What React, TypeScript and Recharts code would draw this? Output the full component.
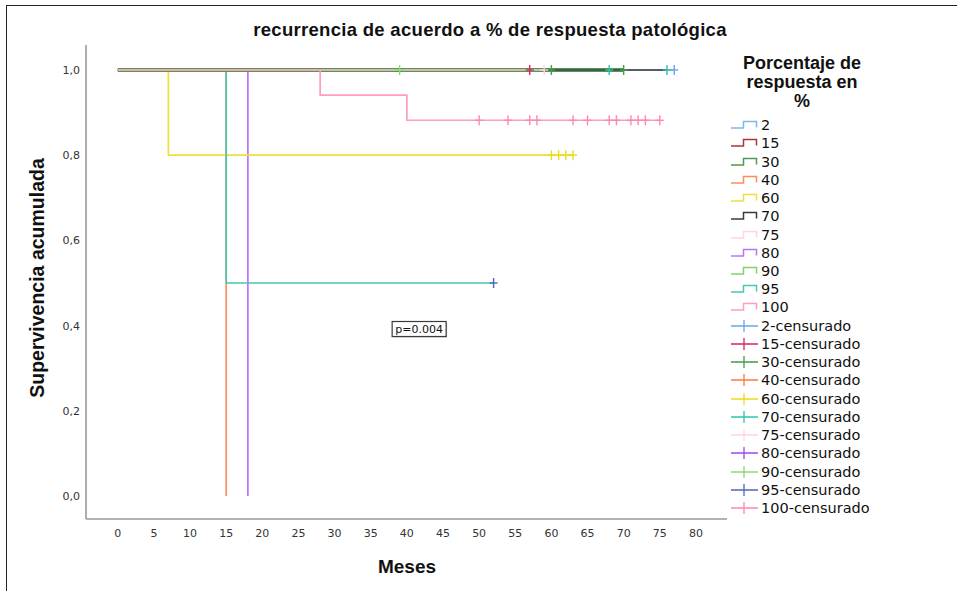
import React from 'react';
import {
  ComposedChart,
  Line,
  Scatter,
  XAxis,
  YAxis,
  Legend,
  ReferenceDot,
  Label,
} from 'recharts';

type Point = { t: number; s: number };

// Groups: percentage of pathological response
const groups = ['2', '15', '30', '40', '60', '70', '75', '80', '90', '95', '100'];

// Kaplan–Meier step curves (time in months, cumulative survival)
const curve2: Point[] = [{ t: 0, s: 1 }, { t: 77, s: 1 }];
const curve15: Point[] = [{ t: 0, s: 1 }, { t: 57, s: 1 }];
const curve30: Point[] = [{ t: 0, s: 1 }, { t: 70, s: 1 }];
const curve40: Point[] = [{ t: 0, s: 1 }, { t: 15, s: 0 }];
const curve60: Point[] = [{ t: 0, s: 1 }, { t: 7, s: 0.8 }, { t: 63, s: 0.8 }];
const curve70: Point[] = [{ t: 0, s: 1 }, { t: 76, s: 1 }];
const curve75: Point[] = [{ t: 0, s: 1 }, { t: 59, s: 1 }];
const curve80: Point[] = [{ t: 0, s: 1 }, { t: 18, s: 0 }];
const curve90: Point[] = [{ t: 0, s: 1 }, { t: 39, s: 1 }];
const curve95: Point[] = [{ t: 0, s: 1 }, { t: 15, s: 0.5 }, { t: 52, s: 0.5 }];
const curve100: Point[] = [
  { t: 0, s: 1 },
  { t: 28, s: 0.941 },
  { t: 40, s: 0.882 },
  { t: 75, s: 0.882 },
];

// Censoring times (months)
const censored2 = [77];
const censored15 = [57];
const censored30 = [60, 70];
const censored40: number[] = [];
const censored60 = [60, 61, 62, 63];
const censored70 = [68, 76];
const censored75 = [59];
const censored80: number[] = [];
const censored90 = [39];
const censored95 = [52];
const censored100 = [50, 54, 57, 58, 63, 65, 68, 69, 71, 72, 73, 75];

const xTicks = [0, 5, 10, 15, 20, 25, 30, 35, 40, 45, 50, 55, 60, 65, 70, 75, 80];
const yTicks = [0, 0.2, 0.4, 0.6, 0.8, 1];

const curveColors: Record<string, string> = {
  '2': '#7db5ef',
  '15': '#a83838',
  '30': '#4f9a4f',
  '40': '#ff8d5c',
  '60': '#ece03c',
  '70': '#3a3a3a',
  '75': '#ffd4e4',
  '80': '#bc74f6',
  '90': '#80d46c',
  '95': '#48c6b2',
  '100': '#ff9cc0',
};

const censorColors: Record<string, string> = {
  '2': '#6aa6e8',
  '15': '#d8265e',
  '30': '#4a984a',
  '40': '#ff7a3a',
  '60': '#ebdc1e',
  '70': '#2ec2ae',
  '75': '#ffd4e4',
  '80': '#9c48f2',
  '90': '#8ed870',
  '95': '#4f66b6',
  '100': '#ff86b4',
};

const curves: Record<string, Point[]> = {
  '2': curve2,
  '15': curve15,
  '30': curve30,
  '40': curve40,
  '60': curve60,
  '70': curve70,
  '75': curve75,
  '80': curve80,
  '90': curve90,
  '95': curve95,
  '100': curve100,
};

const censored: Record<string, number[]> = {
  '2': censored2,
  '15': censored15,
  '30': censored30,
  '40': censored40,
  '60': censored60,
  '70': censored70,
  '75': censored75,
  '80': censored80,
  '90': censored90,
  '95': censored95,
  '100': censored100,
};

// Drawing order of the curves, bottom to top
const drawOrder = ['40', '80', '60', '95', '30', '2', '90', '70', '15', '75', '100'];

// Survival value of a step curve at a given time
const survivalAt = (curve: Point[], time: number) => {
  let s = curve[0].s;
  for (const p of curve) if (p.t <= time) s = p.s;
  return s;
};

const censorPoints = (g: string): Point[] =>
  censored[g].map((t) => ({ t, s: survivalAt(curves[g], t) }));

const fmtY = (v: number) => v.toFixed(1).replace('.', ',');

const Cross = ({ cx, cy, color }: { cx?: number; cy?: number; color: string }) => {
  if (cx == null || cy == null) return null;
  return (
    <g stroke={color} strokeWidth={1.4}>
      <line x1={cx - 4} x2={cx + 4} y1={cy} y2={cy} />
      <line x1={cx} x2={cx} y1={cy - 5} y2={cy + 5} />
    </g>
  );
};

const PBox = ({ cx, cy }: { cx?: number; cy?: number }) => {
  if (cx == null || cy == null) return null;
  return (
    <g>
      <rect x={cx - 26} y={cy - 6.5} width={54} height={15} fill="#c4c4c4" />
      <rect x={cx - 27} y={cy - 7.5} width={54} height={15} fill="#fff" stroke="#3a3a3a" strokeWidth={1.2} />
      <text
        x={cx}
        y={cy + 0.5}
        textAnchor="middle"
        dominantBaseline="central"
        fontFamily="'DejaVu Sans', sans-serif"
        fontSize={11}
        fill="#111"
      >
        p=0.004
      </text>
    </g>
  );
};

const StepIcon = ({ color }: { color: string }) => (
  <svg width={28} height={18} style={{ display: 'block' }}>
    <path d="M1,12 H13.5 V5.5 H26.5 V11.5" fill="none" stroke={color} strokeWidth={1.5} />
  </svg>
);

const CrossIcon = ({ color }: { color: string }) => (
  <svg width={28} height={18} style={{ display: 'block' }}>
    <path d="M1,9 H28 M14,3 V15" fill="none" stroke={color} strokeWidth={1.3} />
  </svg>
);

const rowStyle: React.CSSProperties = {
  display: 'flex',
  alignItems: 'center',
  height: 18.24,
};

const labelStyle: React.CSSProperties = {
  marginLeft: 3,
  fontFamily: "'DejaVu Sans', sans-serif",
  fontSize: 14.5,
  color: '#111',
  whiteSpace: 'nowrap',
};

const GroupLegend = () => (
  <div>
    <div
      style={{
        width: 146,
        textAlign: 'center',
        fontFamily: "'Liberation Sans', Arial, sans-serif",
        fontWeight: 'bold',
        fontSize: 18,
        lineHeight: '19px',
        color: '#111',
      }}
    >
      Porcentaje de
      <br />
      respuesta en
      <br />%
    </div>
    <div style={{ marginTop: 5, paddingLeft: 1 }}>
      {groups.map((g) => (
        <div key={`c-${g}`} style={rowStyle}>
          <StepIcon color={curveColors[g]} />
          <span style={labelStyle}>{g}</span>
        </div>
      ))}
      {groups.map((g) => (
        <div key={`x-${g}`} style={rowStyle}>
          <CrossIcon color={censorColors[g]} />
          <span style={labelStyle}>{g}-censurado</span>
        </div>
      ))}
    </div>
  </div>
);

const tickStyle = {
  fontFamily: "'DejaVu Sans', sans-serif",
  fontSize: 11,
  fill: '#333',
};

export default function App() {
  return (
    <div style={{ position: 'absolute', left: 0, top: 0, width: 957, height: 591, background: '#fff' }}>
      <div
        style={{
          position: 'absolute',
          left: 6,
          top: 5,
          right: 0,
          bottom: 0,
          borderTop: '1.5px solid #222',
          borderLeft: '1.5px solid #222',
        }}
      />
      <div
        style={{
          position: 'absolute',
          left: 190,
          top: 20,
          width: 600,
          textAlign: 'center',
          fontFamily: "'Liberation Sans', Arial, sans-serif",
          fontWeight: 'bold',
          fontSize: 18.5,
          letterSpacing: 0.3,
          lineHeight: '20px',
          color: '#111',
        }}
      >
        recurrencia de acuerdo a % de respuesta patológica
      </div>
      <div style={{ position: 'absolute', left: 0, top: 0 }}>
        <ComposedChart width={957} height={591} margin={{ top: 45, right: 230, bottom: 42, left: 46 }}>
          <XAxis
            type="number"
            dataKey="t"
            domain={[-4.4, 84.3]}
            allowDataOverflow
            ticks={xTicks}
            interval={0}
            height={30}
            tickLine={false}
            tickSize={0}
            tickMargin={10}
            axisLine={{ stroke: '#9a9a9a', strokeWidth: 1.6 }}
            tick={tickStyle}
          >
            <Label
              content={() => (
                <text
                  x={407}
                  y={566}
                  textAnchor="middle"
                  dominantBaseline="central"
                  fontFamily="'Liberation Sans', Arial, sans-serif"
                  fontWeight="bold"
                  fontSize={19}
                  fill="#111"
                >
                  Meses
                </text>
              )}
            />
          </XAxis>
          <YAxis
            type="number"
            domain={[-0.054, 1.0587]}
            allowDataOverflow
            ticks={yTicks}
            interval={0}
            width={40}
            tickLine={false}
            tickSize={0}
            tickMargin={6}
            tickFormatter={fmtY}
            axisLine={{ stroke: '#9a9a9a', strokeWidth: 1.6 }}
            tick={tickStyle}
          >
            <Label
              content={() => (
                <text
                  x={37}
                  y={278}
                  transform="rotate(-90 37 278)"
                  textAnchor="middle"
                  dominantBaseline="central"
                  fontFamily="'Liberation Sans', Arial, sans-serif"
                  fontWeight="bold"
                  fontSize={19.5}
                  fill="#111"
                >
                  Supervivencia acumulada
                </text>
              )}
            />
          </YAxis>

          {drawOrder.map((g) => (
            <Line
              key={`line-${g}`}
              data={curves[g]}
              dataKey="s"
              type="stepAfter"
              stroke={curveColors[g]}
              strokeWidth={g === '30' ? 4 : 1.7}
              dot={false}
              activeDot={false}
              isAnimationActive={false}
            />
          ))}

          {groups
            .filter((g) => censored[g].length > 0)
            .map((g) => (
              <Scatter
                key={`cens-${g}`}
                data={censorPoints(g)}
                dataKey="s"
                fill={censorColors[g]}
                shape={(p: any) => <Cross cx={p.cx} cy={p.cy} color={censorColors[g]} />}
                isAnimationActive={false}
              />
            ))}

          <ReferenceDot x={41.7} y={0.392} r={0} shape={(p: any) => <PBox cx={p.cx} cy={p.cy} />} />

          <Legend
            layout="vertical"
            align="center"
            verticalAlign="middle"
            wrapperStyle={{ left: 729, top: 54, width: 220 }}
            content={() => <GroupLegend />}
          />
        </ComposedChart>
      </div>
    </div>
  );
}
